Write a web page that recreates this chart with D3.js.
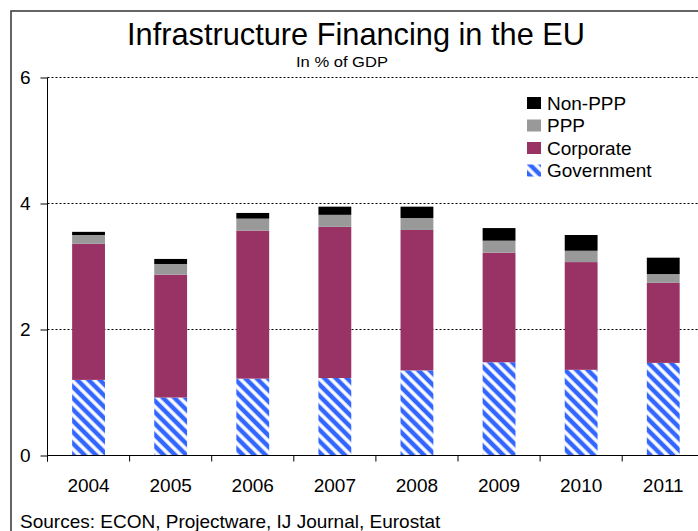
<!DOCTYPE html>
<html>
<head>
<meta charset="utf-8">
<script src="https://cdn.jsdelivr.net/npm/d3@7"></script>
<style>
  body { margin: 0; background: #fff; }
  svg { display: block; font-family: "Liberation Sans", Arial, sans-serif; }
</style>
</head>
<body>
<svg id="chart" width="698" height="531"></svg>
<script>
// Infrastructure financing in the EU, % of GDP, by source
const years = ["2004", "2005", "2006", "2007", "2008", "2009", "2010", "2011"];
const government = [1.20, 0.92, 1.22, 1.23, 1.35, 1.48, 1.36, 1.47];
const corporate  = [2.16, 1.95, 2.35, 2.40, 2.23, 1.74, 1.71, 1.27];
const ppp        = [0.14, 0.17, 0.19, 0.19, 0.19, 0.19, 0.18, 0.14];
const nonPpp     = [0.05, 0.08, 0.09, 0.13, 0.18, 0.20, 0.25, 0.26];
const yTicks = [0, 2, 4, 6];
const seriesKeys = ["Government", "Corporate", "PPP", "Non-PPP"];
const legendOrder = ["Non-PPP", "PPP", "Corporate", "Government"];

const rows = years.map((y, i) => ({
  year: y,
  "Government": government[i],
  "Corporate": corporate[i],
  "PPP": ppp[i],
  "Non-PPP": nonPpp[i]
}));

const svg = d3.select("#chart");

const defs = svg.append("defs");
const hatch = defs.append("pattern")
  .attr("id", "govHatch")
  .attr("patternUnits", "userSpaceOnUse")
  .attr("width", 8).attr("height", 8)
  .attr("patternTransform", "rotate(45)");
hatch.append("rect").attr("width", 8).attr("height", 8).attr("fill", "#3366FF");
hatch.append("rect").attr("y", 0).attr("width", 8).attr("height", 1).attr("fill", "#c8d6ff");
hatch.append("rect").attr("y", 1).attr("width", 8).attr("height", 2).attr("fill", "#ffffff");
hatch.append("rect").attr("y", 3).attr("width", 8).attr("height", 1).attr("fill", "#c8d6ff");

const fills = {
  "Government": "url(#govHatch)",
  "Corporate": "#993366",
  "PPP": "#999999",
  "Non-PPP": "#000000"
};

// outer frame
svg.append("rect")
  .attr("x", 11).attr("y", 11)
  .attr("width", 720).attr("height", 560)
  .attr("fill", "none").attr("stroke", "#333").attr("stroke-width", 1.5);

const x = d3.scaleBand()
  .domain(years)
  .range([47.5, 47.5 + 8 * 82.1])
  .paddingInner(0.6)
  .paddingOuter(0.3);

const y = d3.scaleLinear().domain([0, 6]).range([455.5, 77.5]);

// dotted gridlines
svg.append("g")
  .selectAll("line")
  .data(yTicks.filter(t => t > 0))
  .join("line")
  .attr("x1", 47.5).attr("x2", 720)
  .attr("y1", d => y(d)).attr("y2", d => y(d))
  .attr("stroke", "#000").attr("stroke-width", 1)
  .attr("stroke-dasharray", "2,2");

// stacked bars
const stacked = d3.stack().keys(seriesKeys)(rows);
svg.append("g")
  .selectAll("g")
  .data(stacked)
  .join("g")
  .attr("fill", d => fills[d.key])
  .selectAll("rect")
  .data(d => d)
  .join("rect")
  .attr("x", d => x(d.data.year))
  .attr("width", x.bandwidth())
  .attr("y", d => y(d[1]))
  .attr("height", d => y(d[0]) - y(d[1]));

// y axis
const yAxis = d3.axisLeft(y).tickValues(yTicks).tickSize(7).tickPadding(10).tickFormat(d3.format("d"));
const gy = svg.append("g").attr("transform", "translate(47.5,0)").call(yAxis);
gy.select(".domain").attr("d", `M0,${y(6)}V${y(0) + 6}`).attr("stroke", "#000");
gy.selectAll(".tick line").attr("stroke", "#000");
gy.selectAll(".tick text").attr("font-size", 19).attr("fill", "#000")
  .attr("font-family", "'Liberation Sans', Arial, sans-serif");

// x axis with ticks at category boundaries
const xLine = svg.append("g");
xLine.append("line")
  .attr("x1", 47.5).attr("x2", 720)
  .attr("y1", y(0)).attr("y2", y(0))
  .attr("stroke", "#000").attr("stroke-width", 1);
const step = x.step();
xLine.selectAll("line.tk")
  .data(years)
  .join("line")
  .attr("class", "tk")
  .attr("x1", d => x(d) - x.paddingOuter() * step)
  .attr("x2", d => x(d) - x.paddingOuter() * step)
  .attr("y1", y(0)).attr("y2", y(0) + 6)
  .attr("stroke", "#000");
xLine.selectAll("text")
  .data(years)
  .join("text")
  .attr("x", d => x(d) + x.bandwidth() / 2)
  .attr("y", 492)
  .attr("text-anchor", "middle")
  .attr("font-size", 19)
  .attr("fill", "#000")
  .text(d => d);

// titles
svg.append("text")
  .attr("x", 356).attr("y", 45)
  .attr("text-anchor", "middle")
  .attr("font-size", 32)
  .attr("textLength", 458)
  .attr("lengthAdjust", "spacingAndGlyphs")
  .attr("fill", "#000")
  .text("Infrastructure Financing in the EU");
svg.append("text")
  .attr("x", 342).attr("y", 67)
  .attr("text-anchor", "middle")
  .attr("font-size", 15)
  .attr("textLength", 92)
  .attr("lengthAdjust", "spacingAndGlyphs")
  .attr("fill", "#000")
  .text("In % of GDP");

// legend
const legend = svg.append("g").attr("transform", "translate(527,97)");
const items = legend.selectAll("g")
  .data(legendOrder)
  .join("g")
  .attr("transform", (d, i) => `translate(0,${i * 22.5})`);
items.append("rect")
  .attr("width", 14).attr("height", 12)
  .attr("fill", d => fills[d]);
items.append("text")
  .attr("x", 20).attr("y", 12.5)
  .attr("font-size", 19)
  .attr("fill", "#000")
  .text(d => d);

// source note
svg.append("text")
  .attr("x", 20).attr("y", 528)
  .attr("font-size", 19)
  .attr("fill", "#000")
  .text("Sources: ECON, Projectware, IJ Journal, Eurostat");
</script>
</body>
</html>
